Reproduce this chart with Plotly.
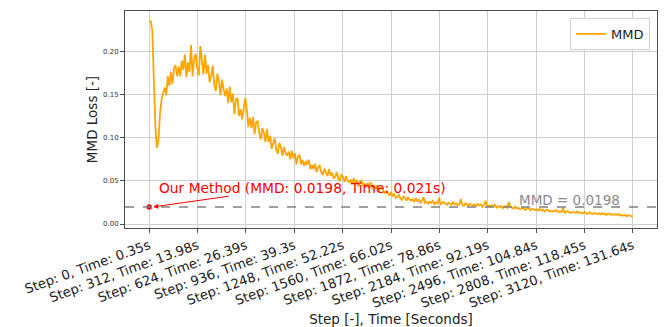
import plotly.graph_objects as go

# Training steps (one value every 10 steps) and the MMD loss recorded at each
steps = list(range(0, 3121, 10))

mmd = [
    0.2355, 0.2345, 0.2240, 0.1750, 0.1120, 0.0880, 0.0980, 0.1280, 0.1440, 0.1520,
    0.158, 0.149, 0.171, 0.160, 0.176, 0.162, 0.180, 0.184, 0.171, 0.182,
    0.171, 0.189, 0.178, 0.196, 0.170, 0.187, 0.176, 0.207, 0.171, 0.191,
    0.197, 0.180, 0.172, 0.206, 0.188, 0.173, 0.196, 0.174, 0.184, 0.164,
    0.171, 0.183, 0.161, 0.154, 0.174, 0.165, 0.149, 0.167, 0.156, 0.148,
    0.157, 0.140, 0.159, 0.141, 0.151, 0.127, 0.144, 0.146, 0.125, 0.133,
    0.121, 0.133, 0.146, 0.132, 0.112, 0.123, 0.111, 0.124, 0.104, 0.118,
    0.119, 0.105, 0.098, 0.111, 0.106, 0.095, 0.110, 0.095, 0.102, 0.087,
    0.093, 0.099, 0.086, 0.081, 0.094, 0.089, 0.079, 0.089, 0.082, 0.079,
    0.084, 0.075, 0.085, 0.076, 0.082, 0.069, 0.078, 0.080, 0.069, 0.074,
    0.0675, 0.0730, 0.0685, 0.0745, 0.0635, 0.0685, 0.0635, 0.0695, 0.0600, 0.0660,
    0.0675, 0.0600, 0.0565, 0.0640, 0.0600, 0.0555, 0.0635, 0.0560, 0.0595, 0.0525,
    0.0550, 0.0600, 0.0525, 0.0495, 0.0575, 0.0545, 0.0485, 0.0552, 0.0510, 0.0480,
    0.0515, 0.0464, 0.0530, 0.0474, 0.0507, 0.0434, 0.0492, 0.0505, 0.0442, 0.0466,
    0.0437, 0.0475, 0.0444, 0.0483, 0.0409, 0.0439, 0.0409, 0.0448, 0.0375, 0.0417,
    0.0426, 0.0379, 0.0351, 0.0387, 0.0361, 0.0330, 0.0372, 0.0327, 0.0344, 0.0302,
    0.0314, 0.0340, 0.0296, 0.0278, 0.0320, 0.0307, 0.0272, 0.0306, 0.0286, 0.0271,
    0.0288, 0.0261, 0.0295, 0.0266, 0.0282, 0.0242, 0.0272, 0.0310, 0.0245, 0.0257,
    0.0237, 0.0260, 0.0245, 0.0268, 0.0229, 0.0250, 0.0235, 0.0305, 0.0223, 0.0248,
    0.0255, 0.0233, 0.0221, 0.0247, 0.0237, 0.0223, 0.0253, 0.0228, 0.0240, 0.0217,
    0.0226, 0.0290, 0.0218, 0.0208, 0.0240, 0.0230, 0.0209, 0.0235, 0.0222, 0.0213,
    0.0226, 0.0207, 0.0233, 0.0213, 0.0227, 0.0198, 0.0221, 0.0270, 0.0203, 0.0214,
    0.0200, 0.0218, 0.0204, 0.0222, 0.0191, 0.0207, 0.0194, 0.0211, 0.0183, 0.0203,
    0.0207, 0.0189, 0.0255, 0.0199, 0.0189, 0.0179, 0.0201, 0.0181, 0.0190, 0.0171,
    0.0176, 0.0192, 0.0169, 0.0162, 0.0184, 0.0177, 0.0160, 0.0179, 0.0168, 0.0161,
    0.0170, 0.0154, 0.0174, 0.0157, 0.0167, 0.0145, 0.0162, 0.0166, 0.0146, 0.0154,
    0.0142, 0.0156, 0.0146, 0.0159, 0.0136, 0.0148, 0.0139, 0.0185, 0.0131, 0.0145,
    0.0149, 0.0135, 0.0128, 0.0143, 0.0136, 0.0128, 0.0145, 0.0130, 0.0137, 0.0123,
    0.0128, 0.0139, 0.0122, 0.0116, 0.0134, 0.0128, 0.0115, 0.0130, 0.0122, 0.0116,
    0.0124, 0.0112, 0.0127, 0.0114, 0.0122, 0.0105, 0.0119, 0.0121, 0.0106, 0.0113,
    0.0104, 0.0115, 0.0105, 0.0116, 0.0096, 0.0106, 0.0096, 0.0107, 0.0089, 0.0101,
    0.0099, 0.0089, 0.0092,
]

# Tick positions on the step axis and the wall-clock time at each one
tick_steps = [0, 312, 624, 936, 1248, 1560, 1872, 2184, 2496, 2808, 3120]
tick_times = ["0.35s", "13.98s", "26.39s", "39.3s", "52.22s", "66.02s",
              "78.86s", "92.19s", "104.84s", "118.45s", "131.64s"]
tick_labels = [f"Step: {s}, Time: {t}" for s, t in zip(tick_steps, tick_times)]

# Reference result of our method
our_mmd = 0.0198
our_time = "0.021s"
our_step = 0

FONT = "DejaVu Sans"
AXIS_COLOR = "#4d4d4d"
GRID_COLOR = "#d0d0d0"

fig = go.Figure()

fig.add_trace(go.Scatter(
    x=steps, y=mmd, mode="lines", name="MMD",
    line=dict(color="#FFA500", width=1.8),
))

fig.add_trace(go.Scatter(
    x=[our_step], y=[our_mmd], mode="markers", showlegend=False,
    marker=dict(color="red", size=5.5),
))

# Horizontal reference at our method's MMD
fig.add_shape(type="line", xref="paper", x0=0, x1=1, yref="y",
              y0=our_mmd, y1=our_mmd,
              line=dict(color="#808080", width=1.5, dash="dash"))

fig.add_annotation(x=3050, y=0.0278, xref="x", yref="y",
                   text=f"MMD = {our_mmd}", showarrow=False,
                   xanchor="right", yanchor="middle",
                   font=dict(family=FONT, size=13.5, color="#8a8a8a"))

# Label for our method with an arrow pointing at its marker
fig.add_annotation(x=50, y=0.0420, xref="x", yref="y",
                   text=f"Our Method (MMD: {our_mmd}, Time: {our_time})",
                   showarrow=False, xanchor="left", yanchor="middle",
                   font=dict(family=FONT, size=13.8, color="red"))
fig.add_annotation(x=26, y=our_mmd, xref="x", yref="y",
                   ax=522, ay=0.0324, axref="x", ayref="y",
                   text="", showarrow=True, arrowhead=2, arrowsize=1,
                   arrowwidth=1, arrowcolor="red")

fig.update_layout(
    width=666, height=327,
    margin=dict(l=125, r=9, t=11, b=99),
    paper_bgcolor="white", plot_bgcolor="white",
    font=dict(family=FONT, color="#222222"),
    showlegend=True,
    legend=dict(x=0.987, y=0.968, xanchor="right", yanchor="top",
                bgcolor="white", bordercolor="#d0d0d0", borderwidth=1,
                font=dict(family=FONT, size=13, color="#222222"),
                itemwidth=30, tracegroupgap=0),
)

fig.update_xaxes(
    range=[-156, 3276], automargin=False,
    tickmode="array", tickvals=tick_steps, ticktext=tick_labels,
    tickangle=-20, tickfont=dict(family=FONT, size=13.2, color="#222222"),
    ticks="outside", ticklen=4, tickcolor=AXIS_COLOR,
    showgrid=True, gridcolor=GRID_COLOR, gridwidth=1,
    showline=True, linecolor=AXIS_COLOR, linewidth=1, mirror=True,
    zeroline=False,
    title=dict(text="Step [-], Time [Seconds]",
               font=dict(family=FONT, size=13.5, color="#222222"), standoff=7),
)

fig.update_yaxes(
    range=[-0.0046, 0.2465], automargin=False,
    tickmode="array", tickvals=[0, 0.05, 0.10, 0.15, 0.20], tickformat=".2f",
    tickfont=dict(family=FONT, size=7, color="#333333"),
    ticks="outside", ticklen=4, tickcolor=AXIS_COLOR,
    showgrid=True, gridcolor=GRID_COLOR, gridwidth=1,
    showline=True, linecolor=AXIS_COLOR, linewidth=1, mirror=True,
    zeroline=False,
    title=dict(text="MMD Loss [-]",
               font=dict(family=FONT, size=13.5, color="#222222"), standoff=2),
)

fig.write_html("out.html")
